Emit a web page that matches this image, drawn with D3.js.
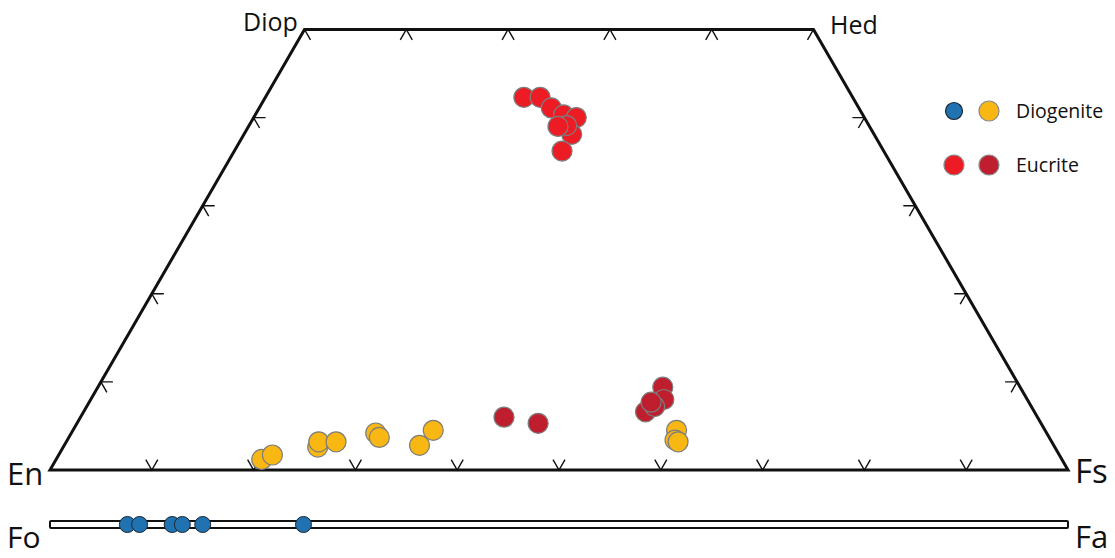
<!DOCTYPE html>
<html>
<head>
<meta charset="utf-8">
<script src="https://cdn.jsdelivr.net/npm/d3@7"></script>
<style>
  body { margin: 0; background: #fff; }
  text { font-family: "Open Sans", "Noto Sans", sans-serif; fill: #111; }
</style>
</head>
<body>
<div id="chart"></div>
<script>
// pyroxene compositions: Wo and Fs (mol %)
var eucriteA_wo = [42.3, 42.3, 41.1, 40.3, 40.0, 38.1, 39.1, 39.0, 36.2];
var eucriteA_fs = [25.4, 27.0, 28.7, 30.3, 31.7, 32.2, 31.2, 30.4, 32.2];

var eucriteB_wo = [6.0, 5.3, 9.4, 8.0, 6.6, 7.2, 7.7];
var eucriteB_fs = [41.6, 45.3, 55.5, 56.3, 55.2, 55.8, 55.2];

var diogenite_wo = [1.2, 1.7, 2.6, 3.2, 3.2, 4.2, 3.7, 2.8, 4.5, 4.5, 3.4, 3.2];
var diogenite_fs = [20.2, 21.0, 25.0, 24.8, 26.5, 29.9, 30.5, 34.9, 35.4, 59.3, 59.7, 60.1];

// olivine compositions: Fa (mol %)
var olivine_fa = [7.6, 8.8, 12.0, 13.0, 15.0, 24.9];

// ticks
var bottomTicks = [10, 20, 30, 40, 50, 60, 70, 80, 90];
var topTicks = [0, 10, 20, 30, 40, 50];
var sideTicks = [10, 20, 30, 40];

var legendNames = ["Diogenite", "Eucrite"];
var legendColors = [["#2172b0", "#f8b712"], ["#ed1c24", "#be1e2d"]];

var width = 1115, height = 558;

var svg = d3.select("#chart").append("svg")
  .attr("width", width)
  .attr("height", height);

var x = d3.scaleLinear().domain([0, 100]).range([50, 1068]);
var y = d3.scaleLinear().domain([0, 50]).range([470, 29.5]);

// ternary projection for the quadrilateral
function proj(fs, wo) {
  return [x(fs + wo / 2), y(wo)];
}

var corners = [proj(0, 0), proj(0, 50), proj(50, 50), proj(100, 0)];

svg.append("polygon")
  .attr("points", corners.map(function(p) { return p.join(","); }).join(" "))
  .attr("fill", "none")
  .attr("stroke", "#111")
  .attr("stroke-width", 3)
  .attr("stroke-linejoin", "miter");

// tick marks, two short arms from a point on the edge
var L = 12;
var c60 = 0.5, s60 = Math.sqrt(3) / 2;
var ticks = [];
bottomTicks.forEach(function(f) {
  ticks.push({p: proj(f, 0), arms: [[-c60, -s60], [c60, -s60]]});
});
topTicks.forEach(function(f) {
  ticks.push({p: proj(f, 50), arms: [[-c60, s60], [c60, s60]]});
});
sideTicks.forEach(function(w) {
  ticks.push({p: proj(0, w), arms: [[1, 0], [c60, s60]]});
  ticks.push({p: proj(100 - w, w), arms: [[-1, 0], [-c60, s60]]});
});

svg.append("g").selectAll("path")
  .data(ticks)
  .enter().append("path")
  .attr("d", function(d) {
    var p = d.p;
    return "M" + (p[0] + d.arms[0][0] * L) + "," + (p[1] + d.arms[0][1] * L) +
      "L" + p[0] + "," + p[1] +
      "L" + (p[0] + d.arms[1][0] * L) + "," + (p[1] + d.arms[1][1] * L);
  })
  .attr("fill", "none")
  .attr("stroke", "#111")
  .attr("stroke-width", 1.4);

// olivine bar
var barY = 524.5;
svg.append("rect")
  .attr("x", x(0))
  .attr("y", barY - 3.5)
  .attr("width", x(100) - x(0))
  .attr("height", 7)
  .attr("rx", 1)
  .attr("fill", "#fff")
  .attr("stroke", "#111")
  .attr("stroke-width", 2);

svg.append("g").selectAll("circle")
  .data(olivine_fa)
  .enter().append("circle")
  .attr("cx", function(d) { return x(d); })
  .attr("cy", barY)
  .attr("r", 8)
  .attr("fill", "#2172b0")
  .attr("stroke", "#1a2633")
  .attr("stroke-width", 1);

// pyroxene points
function drawGroup(wo, fs, color) {
  var pts = wo.map(function(w, i) { return proj(fs[i], w); });
  svg.append("g").selectAll("circle")
    .data(pts)
    .enter().append("circle")
    .attr("cx", function(d) { return d[0]; })
    .attr("cy", function(d) { return d[1]; })
    .attr("r", 10)
    .attr("fill", color)
    .attr("stroke", "#7d7d7d")
    .attr("stroke-width", 1.2);
}
drawGroup(diogenite_wo, diogenite_fs, "#f8b712");
drawGroup(eucriteB_wo, eucriteB_fs, "#be1e2d");
drawGroup(eucriteA_wo, eucriteA_fs, "#ed1c24");

// vertex labels
var labels = [
  {t: "Diop", x: 243, y: 31, s: 25},
  {t: "Hed", x: 830, y: 34, s: 25},
  {t: "En", x: 7, y: 485, s: 31},
  {t: "Fs", x: 1075, y: 483, s: 33},
  {t: "Fo", x: 7, y: 548, s: 30},
  {t: "Fa", x: 1075, y: 548, s: 31}
];
svg.append("g").selectAll("text")
  .data(labels)
  .enter().append("text")
  .attr("x", function(d) { return d.x; })
  .attr("y", function(d) { return d.y; })
  .attr("font-size", function(d) { return d.s; })
  .text(function(d) { return d.t; });

// legend
var legend = svg.append("g").selectAll("g")
  .data(legendNames)
  .enter().append("g")
  .attr("transform", function(d, i) { return "translate(0," + (111 + i * 54) + ")"; });

legend.append("circle")
  .attr("cx", 954)
  .attr("r", function(d, i) { return i === 0 ? 8.5 : 10; })
  .attr("fill", function(d, i) { return legendColors[i][0]; })
  .attr("stroke", function(d, i) { return i === 0 ? "#1a2633" : "#8a8a8a"; })
  .attr("stroke-width", 1.2);

legend.append("circle")
  .attr("cx", 989)
  .attr("r", 10)
  .attr("fill", function(d, i) { return legendColors[i][1]; })
  .attr("stroke", "#8a8a8a")
  .attr("stroke-width", 1.2);

legend.append("text")
  .attr("x", 1016)
  .attr("y", 7)
  .attr("font-size", 19.5)
  .text(function(d) { return d; });
</script>
</body>
</html>
